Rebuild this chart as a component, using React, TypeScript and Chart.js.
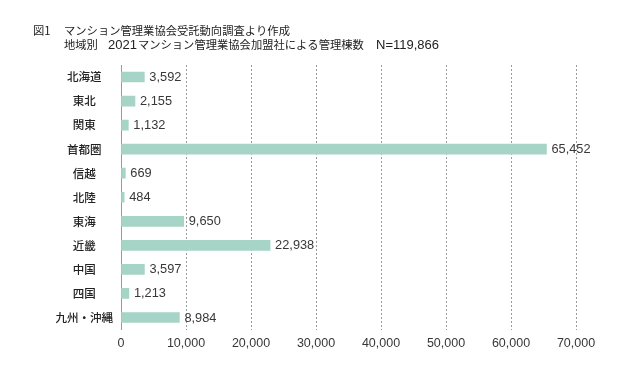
import React, { useEffect, useRef } from "react";
import { Chart, registerables } from "chart.js";

Chart.register(...registerables);

const titleLine1Label = "図1";
const titleLine1 = "マンション管理業協会受託動向調査より作成";
const titleLine2a = "地域別";
const titleLine2Year = "2021";
const titleLine2b = "マンション管理業協会加盟社による管理棟数";
const titleLine2c = "N=119,866";

const categories = ["北海道", "東北", "関東", "首都圏", "信越", "北陸", "東海", "近畿", "中国", "四国", "九州・沖縄"];
const buildingCounts = [3592, 2155, 1132, 65452, 669, 484, 9650, 22938, 3597, 1213, 8984];
const xMax = 70000;
const xStep = 10000;

const LATIN = "'Liberation Sans', Arial, 'Noto Sans CJK JP', sans-serif";
const CJK = "'Noto Sans CJK JP', 'Liberation Sans', sans-serif";
const TEXT = "#383838";
const BAR = "#a6d4c7";
const GRID = "#9a9a9a";

const fmt = (v: number) => v.toLocaleString("en-US");

const titlePlugin = {
  id: "titleText",
  afterDraw(chart: any) {
    const ctx = chart.ctx;
    ctx.save();
    ctx.fillStyle = "#222222";
    ctx.textBaseline = "middle";
    ctx.textAlign = "left";
    ctx.font = `11.3px ${CJK}`;
    ctx.fillText(titleLine1Label, 33, 31);
    ctx.fillText(titleLine1, 64, 31);
    ctx.fillText(titleLine2a, 64, 45);
    ctx.font = `13px ${LATIN}`;
    ctx.fillText(titleLine2Year, 108, 45);
    const yw = ctx.measureText(titleLine2Year).width;
    ctx.fillText(titleLine2c, 376, 45);
    ctx.font = `11.3px ${CJK}`;
    ctx.fillText(titleLine2b, 108 + yw + 1, 45);
    ctx.restore();
  },
};

const valueLabelPlugin = {
  id: "valueLabels",
  afterDatasetsDraw(chart: any) {
    const ctx = chart.ctx;
    const meta = chart.getDatasetMeta(0);
    const data = chart.data.datasets[0].data as number[];
    ctx.save();
    ctx.fillStyle = TEXT;
    ctx.font = `12.8px ${LATIN}`;
    ctx.textAlign = "left";
    ctx.textBaseline = "middle";
    meta.data.forEach((bar: any, i: number) => {
      ctx.fillText(fmt(data[i]), bar.x + 5, bar.y + 0.5);
    });
    ctx.restore();
  },
};

export default function App() {
  const ref = useRef<HTMLCanvasElement | null>(null);

  useEffect(() => {
    if (!ref.current) return;
    const chart = new Chart(ref.current, {
      type: "bar",
      data: {
        labels: categories,
        datasets: [
          {
            data: buildingCounts,
            backgroundColor: BAR,
            borderWidth: 0,
            barThickness: 10,
          },
        ],
      },
      options: {
        indexAxis: "y",
        responsive: false,
        animation: false,
        devicePixelRatio: 1,
        layout: { padding: { top: 65, right: 64, left: 0, bottom: 0 } },
        plugins: {
          legend: { display: false },
          tooltip: { enabled: false },
          title: { display: false },
        },
        scales: {
          x: {
            min: 0,
            max: xMax,
            ticks: {
              stepSize: xStep,
              color: TEXT,
              font: { family: LATIN, size: 12.5 },
              padding: 7,
              callback: (v: any) => fmt(Number(v)),
              maxRotation: 0,
            },
            grid: {
              drawTicks: false,
              color: (c: any) => (c.tick && c.tick.value === 0 ? "rgba(0,0,0,0)" : GRID),
              lineWidth: 1,
            },
            border: { display: false, dash: [2, 2] },
            afterFit: (s: any) => {
              s.height = 44.5;
            },
          },
          y: {
            ticks: {
              color: "#222222",
              font: { family: CJK, size: 11.5, weight: 500 },
              crossAlign: "center",
              padding: 8,
            },
            grid: { display: false, drawTicks: false },
            border: { display: true, color: GRID, width: 1 },
            afterFit: (s: any) => {
              s.width = 121;
            },
          },
        },
      },
      plugins: [titlePlugin, valueLabelPlugin],
    } as any);
    return () => chart.destroy();
  }, []);

  return (
    <div style={{ position: "absolute", left: 0, top: 0, width: 640, height: 374, background: "#ffffff" }}>
      <canvas ref={ref} width={640} height={374} style={{ display: "block" }} />
    </div>
  );
}
